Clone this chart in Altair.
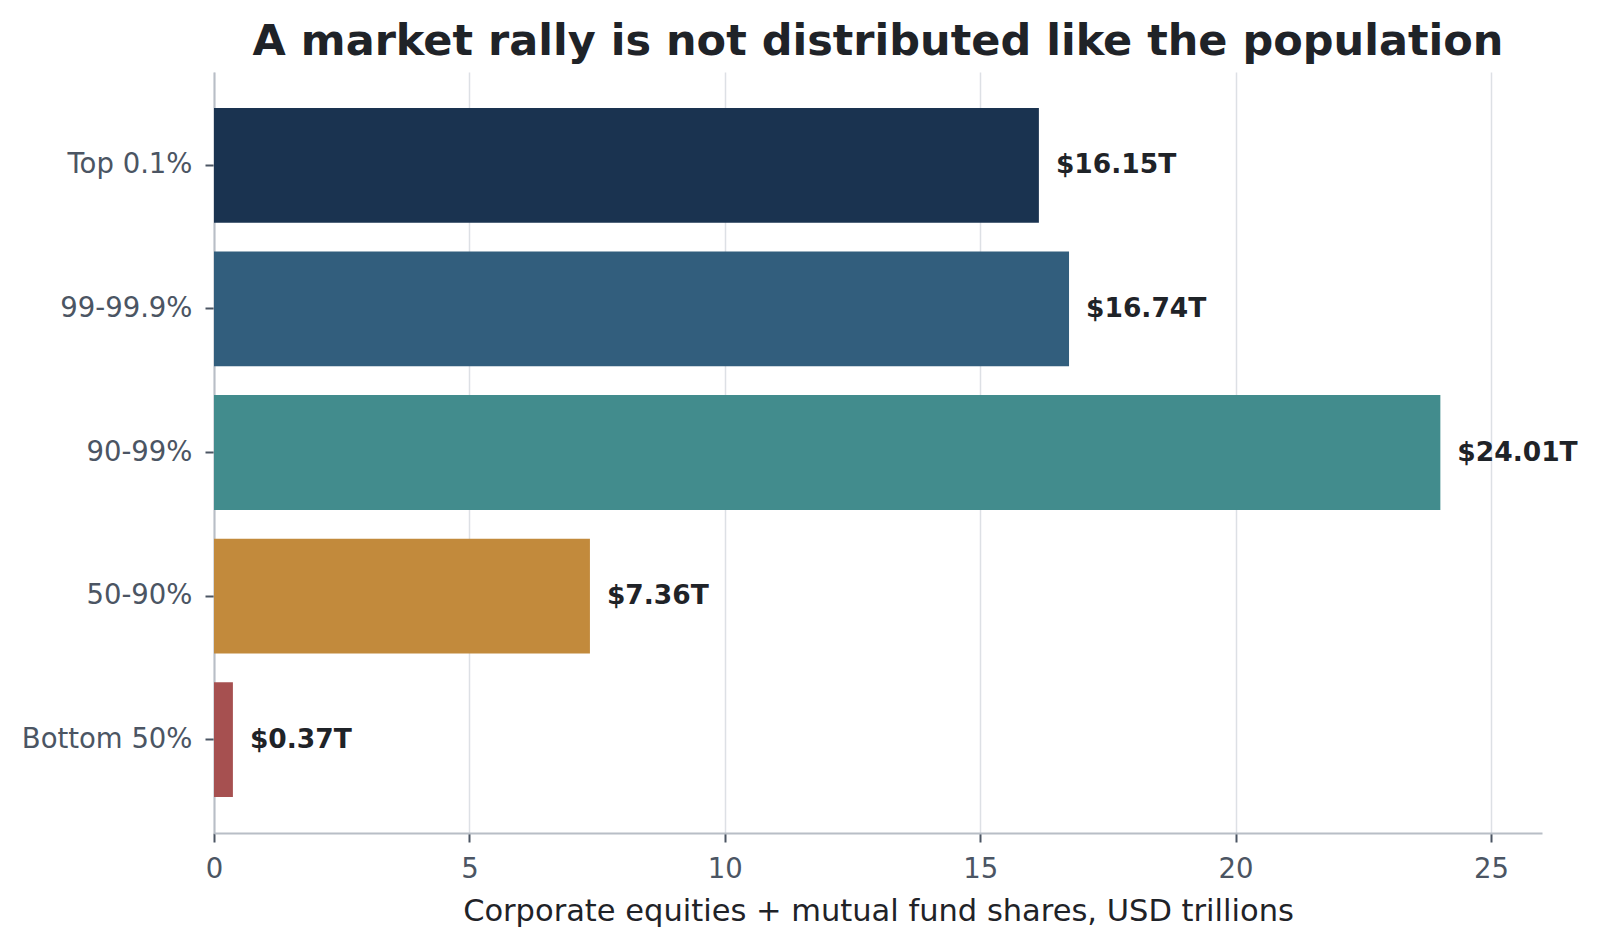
import altair as alt
import pandas as pd

groups = ["Top 0.1%", "99-99.9%", "90-99%", "50-90%", "Bottom 50%"]
values = [16.15, 16.74, 24.01, 7.36, 0.37]
colors = ["#1a3350", "#325e7d", "#428c8d", "#c28a3c", "#a65050"]
labels = ["$" + f"{v:.2f}" + "T" for v in values]

df = pd.DataFrame({"group": groups, "value": values, "label": labels})

FONT = "DejaVu Sans"

y_enc = alt.Y(
    "group:N",
    sort=groups,
    title=None,
    scale=alt.Scale(paddingInner=0.2, paddingOuter=0.25),
    axis=alt.Axis(
        labelFontSize=27.5,
        labelColor="#4b5563",
        labelPadding=13,
        tickSize=9,
        tickColor="#4b5563",
        tickWidth=2,
        domainColor="#b8bec6",
        domainWidth=2,
        grid=False,
        labelFont=FONT,
    ),
)

bars = alt.Chart(df).mark_bar().encode(
    x=alt.X(
        "value:Q",
        scale=alt.Scale(domain=[0, 26], nice=False),
        title="Corporate equities + mutual fund shares, USD trillions",
        axis=alt.Axis(
            values=[0, 5, 10, 15, 20, 25],
            format="d",
            labelFlush=False,
            labelFontSize=27.5,
            labelColor="#4b5563",
            labelPadding=13,
            tickSize=9,
            tickColor="#4b5563",
            tickWidth=2,
            domainColor="#b8bec6",
            domainWidth=2,
            grid=True,
            gridColor="#dde0e5",
            gridWidth=1.5,
            titleFontSize=30.5,
            titleFontWeight="normal",
            titleColor="#1f2328",
            titlePadding=14,
            labelFont=FONT,
            titleFont=FONT,
        ),
    ),
    y=y_enc,
    color=alt.Color("group:N", scale=alt.Scale(domain=groups, range=colors), legend=None),
)

text = alt.Chart(df).mark_text(
    align="left", baseline="middle", dx=17, fontSize=26.5, fontWeight="bold",
    color="#1f2328", font=FONT,
).encode(
    x="value:Q",
    y=alt.Y("group:N", sort=groups),
    text="label:N",
)

chart = (bars + text).properties(
    width=1328,
    height=761,
    autosize=alt.AutoSizeParams(type="none"),
    padding={"left": 206, "top": 64, "right": 40, "bottom": 97},
    title=alt.TitleParams(
        "A market rally is not distributed like the population",
        fontSize=43,
        fontWeight="bold",
        color="#1f2328",
        font=FONT,
        anchor="middle",
        offset=8,
    ),
).configure_view(stroke=None)

chart.save("out.html", embed_options={"renderer": "svg", "actions": False})
